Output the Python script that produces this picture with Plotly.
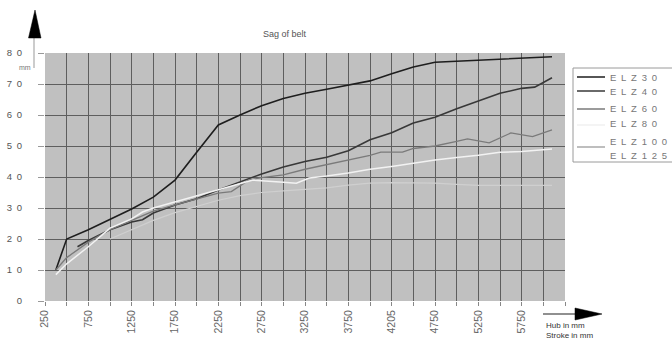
import plotly.graph_objects as go

# ---------------- data ----------------
elz30_x = [375, 500, 750, 1000, 1250, 1500, 1750, 2000, 2250, 2500, 2750, 3000, 3250, 3500,
           3750, 4000, 4250, 4500, 4750, 5000, 5250, 5500, 5750, 6100]
elz30_y = [10, 20, 23, 26.3, 29.7, 33.5, 39, 48, 56.8, 60, 63, 65.3, 67, 68.3,
           69.6, 71, 73.3, 75.5, 77, 77.3, 77.7, 78, 78.4, 78.8]

elz40_x = [625, 750, 1000, 1250, 1375, 1500, 1750, 2000, 2250, 2500, 2750, 3000, 3250, 3500,
           3750, 4000, 4250, 4500, 4750, 5000, 5250, 5500, 5750, 5900, 6100]
elz40_y = [17.5, 19.5, 23, 25.5, 26.2, 28.4, 31, 33, 35.8, 38.5, 41, 43.2, 45, 46.4,
           48.5, 52, 54.3, 57.4, 59.3, 62, 64.5, 67, 68.6, 69, 72]

elz60_x = [375, 500, 750, 1000, 1250, 1500, 1750, 2000, 2250, 2400, 2600, 2750, 3000, 3250,
           3500, 3750, 4000, 4125, 4375, 4500, 4750, 5000, 5125, 5375, 5625, 5875, 6100]
elz60_y = [10, 14, 19, 23, 26, 29, 31, 33, 34.8, 35.3, 39, 39.8, 40.7, 42.5,
           44, 45.5, 47, 48, 48, 49.2, 50, 51.5, 52.3, 51, 54.2, 53, 55.2]

elz80_x = [375, 500, 750, 1000, 1250, 1375, 1500, 1750, 2000, 2250, 2500, 2650, 3000, 3150,
           3300, 3500, 3750, 4000, 4250, 4500, 4750, 5000, 5250, 5500, 5750, 6100]
elz80_y = [8.5, 12, 17.5, 23.5, 26.5, 28.7, 30, 32, 33.8, 35.8, 38, 39, 38.3, 38,
           39.7, 40.3, 41.3, 42.5, 43.4, 44.5, 45.5, 46.3, 47, 48, 48.2, 49]

elz100_x = [1000, 1250, 1500, 1750, 2000, 2250, 2500, 2750, 3000, 3250, 3500, 3750, 4000,
            4250, 4500, 4750, 5000, 5250, 5500, 5750, 6100]
elz100_y = [20, 23, 26, 28.5, 30.5, 32.5, 34, 35, 35.5, 36, 36.5, 37.4, 38,
            38.2, 38.2, 38, 37.6, 37.3, 37.3, 37.3, 37.3]

elz125_x = []
elz125_y = []

series_names = ["E\u2002L\u2002Z\u20023\u20020", "E\u2002L\u2002Z\u20024\u20020",
                "E\u2002L\u2002Z\u20026\u20020", "E\u2002L\u2002Z\u20028\u20020",
                "E\u2002L\u2002Z\u20021\u20020\u20020", "E\u2002L\u2002Z\u20021\u20022\u20025"]

x_tick_vals = [250, 750, 1250, 1750, 2250, 2750, 3250, 3750, 4250, 4750, 5250, 5750]
x_tick_text = ["250", "750", "1250", "1750", "2250", "2750", "3250", "3750", "4205",
               "4750", "5250", "5750"]
y_tick_vals = [0, 10, 20, 30, 40, 50, 60, 70, 80]
y_tick_text = ["0", "1\u20020", "2\u20020", "3\u20020", "4\u20020", "5\u20020",
               "6\u20020", "7\u20020", "8\u20020"]

# ---------------- figure ----------------
W, H = 672, 341
L, R, T, B = 45, 565, 53, 301

def px(x):
    return (x - L) / (R - L)

def py(y):
    return (B - y) / (B - T)

colors = ["#1e1e1e", "#383838", "#7a7a7a", "#f2f2f2", "#cfcfcf", "#ffffff"]
legend_colors = ["#1e1e1e", "#383838", "#7a7a7a", "#f0f0f0", "#a8a8a8", None]
widths = [1.6, 1.6, 1.3, 1.5, 1.2, 1.2]
xs = [elz30_x, elz40_x, elz60_x, elz80_x, elz100_x, elz125_x]
ys = [elz30_y, elz40_y, elz60_y, elz80_y, elz100_y, elz125_y]

fig = go.Figure()
for name, x, y, c, w in zip(series_names, xs, ys, colors, widths):
    fig.add_trace(go.Scatter(x=x, y=y, mode="lines", name=name,
                             line=dict(color=c, width=w), showlegend=False,
                             hoverinfo="skip"))

grid_col = "#5e5e5e"
fig.update_layout(
    width=W, height=H,
    margin=dict(l=L, r=W - R, t=T, b=H - B, autoexpand=False),
    paper_bgcolor="white",
    plot_bgcolor="#c0c0c0",
    font=dict(family="Liberation Sans, Arial, sans-serif", color="#555"),
    showlegend=False,
    xaxis=dict(range=[250, 6250], tickvals=x_tick_vals, ticktext=x_tick_text,
               tickangle=-90, tickfont=dict(size=10.5, color="#666"),
               showgrid=True, gridcolor=grid_col, gridwidth=1,
               ticks="outside", ticklen=4, tickcolor="#888",
               minor=dict(dtick=250, tick0=250, showgrid=True, gridcolor=grid_col,
                          gridwidth=1, ticks="outside", ticklen=4, tickcolor="#888"),
               zeroline=False, showline=False, fixedrange=True),
    yaxis=dict(range=[0, 80], tickvals=y_tick_vals, ticktext=y_tick_text,
               tickfont=dict(size=9.5, color="#555"),
               showgrid=True, gridcolor=grid_col, gridwidth=1,
               ticks="outside", ticklen=6, tickcolor="#999",
               ticklabelstandoff=14,
               zeroline=False, showline=False, fixedrange=True),
)

# manual legend (compact, as in the reference)
fig.add_shape(type="rect", xref="paper", yref="paper",
              x0=px(573), x1=px(690), y0=py(68), y1=py(162),
              fillcolor="white", line=dict(color="#9a9a9a", width=1), layer="above")
text_rows = [77, 91, 108, 124, 141, 155]
line_rows = [77, 91, 109, 125, 147, None]
for name, tr, lr, lc in zip(series_names, text_rows, line_rows, legend_colors):
    if lr is not None and lc is not None:
        fig.add_shape(type="line", xref="paper", yref="paper",
                      x0=px(577), x1=px(605), y0=py(lr), y1=py(lr),
                      line=dict(color=lc, width=1.5))
    fig.add_annotation(text=name, x=px(608), y=py(tr), xref="paper", yref="paper",
                       xanchor="left", yanchor="middle", showarrow=False,
                       font=dict(size=9.5, color="#777"))

# title
fig.add_annotation(text="Sag of belt", x=px(285), y=py(27), xref="paper", yref="paper",
                   showarrow=False, font=dict(size=9, color="#555"))
# mm under 80
fig.add_annotation(text="mm", x=px(17), y=py(62), xref="paper", yref="paper",
                   showarrow=False, font=dict(size=7, color="#777"))
# x-axis caption (two lines)
fig.add_annotation(text="Hub in mm<br>Stroke in mm", x=px(544), y=py(330.5),
                   xref="paper", yref="paper", xanchor="left", yanchor="middle",
                   align="left", showarrow=False, font=dict(size=8, color="#333"))

# y arrow
fig.add_shape(type="line", xref="paper", yref="paper",
              x0=px(34), x1=px(34), y0=py(38), y1=py(68),
              line=dict(color="#999", width=1))
fig.add_shape(type="path", xref="paper", yref="paper",
              path=f"M {px(35)} {py(10)} L {px(28.5)} {py(38)} L {px(41)} {py(38)} Z",
              fillcolor="black", line=dict(color="black", width=0.5))
# x arrow
fig.add_shape(type="line", xref="paper", yref="paper",
              x0=px(543), x1=px(576), y0=py(314), y1=py(314),
              line=dict(color="#222", width=1.2))
fig.add_shape(type="path", xref="paper", yref="paper",
              path=f"M {px(602)} {py(314)} L {px(575)} {py(308)} L {px(575)} {py(320)} Z",
              fillcolor="black", line=dict(color="black", width=0.5))

fig.write_html("out.html", config={"displayModeBar": False, "staticPlot": True},
               post_script="document.body.style.margin='0';document.body.style.overflow='hidden';")
